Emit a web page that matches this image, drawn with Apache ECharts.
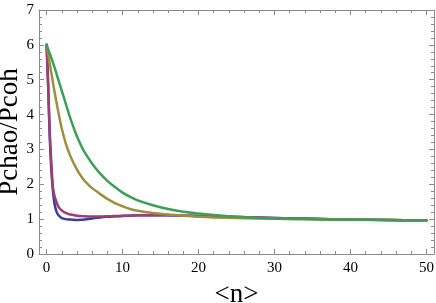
<!DOCTYPE html>
<html>
<head>
<meta charset="utf-8">
<script src="https://cdn.jsdelivr.net/npm/echarts@6/dist/echarts.min.js"></script>
<style>html,body{margin:0;padding:0;background:#fff;}#c{width:436px;height:303px;}</style>
</head>
<body>
<div id="c"></div>
<script>
const xs = [0,0.2,0.4,0.6,0.8,1,1.25,1.5,1.75,2,2.5,3,3.5,4,4.5,5,6,7,8,9,10,11,12,14,16,18,20,22,25,30,35,40,45,50];
const blue = [6,4.85,3.45,2.5,1.9,1.5,1.25,1.13,1.07,1.03,1.0,0.99,0.98,0.975,0.98,0.99,1.02,1.05,1.07,1.08,1.09,1.10,1.11,1.11,1.11,1.10,1.09,1.08,1.06,1.03,1.01,0.99,0.975,0.965];
const purple = [6,4.9,3.55,2.7,1.98,1.7,1.52,1.38,1.3,1.25,1.18,1.14,1.12,1.1,1.09,1.08,1.075,1.075,1.08,1.09,1.095,1.10,1.11,1.11,1.11,1.10,1.09,1.08,1.06,1.03,1.01,0.99,0.975,0.965];
const gold = [6,5.74,5.48,5.22,4.96,4.71,4.41,4.12,3.85,3.6,3.19,2.88,2.63,2.42,2.245,2.1,1.89,1.73,1.58,1.46,1.37,1.29,1.24,1.175,1.13,1.1,1.07,1.05,1.03,1.01,1.0,0.985,0.975,0.965];
const green = [6,5.88,5.76,5.64,5.51,5.38,5.21,5.03,4.86,4.68,4.33,3.98,3.66,3.37,3.13,2.92,2.59,2.32,2.1,1.92,1.76,1.64,1.54,1.4,1.29,1.21,1.16,1.12,1.07,1.02,1.0,0.985,0.975,0.965];
const xMajor = [0,10,20,30,40,50];
const xMinor = [2,4,6,8,12,14,16,18,22,24,26,28,32,34,36,38,42,44,46,48];
const names = ['a','b','c','d'];
const colors = ['#3d3d9e','#9e3d72','#9e8f3d','#3d9e5a'];

const frame = '#8a8a8a';
const font = 'Liberation Serif';
function xAx(pos, labels, vals, len, line) {
  return {
    type:'value', position:pos, min:-1, max:51,
    axisLine:{show:line, onZero:false, lineStyle:{color:frame,width:1}},
    axisTick:{show:true, inside:true, length:len, customValues:vals, lineStyle:{color:frame}},
    axisLabel:{show:labels, customValues:vals, color:'#000', fontFamily:font, fontSize:15, margin:7},
    splitLine:{show:false}
  };
}
function yAx(pos, labels) {
  return {
    type:'value', position:pos, min:0, max:7, interval:1,
    axisLine:{show:true, onZero:false, lineStyle:{color:frame,width:1}},
    axisTick:{show:true, inside:true, length:5, lineStyle:{color:frame}},
    minorTick:{show:true, splitNumber:5, length:3, lineStyle:{color:frame}},
    axisLabel:{show:labels, color:'#000', fontFamily:font, fontSize:15, margin:5},
    splitLine:{show:false}, minorSplitLine:{show:false}
  };
}
const xAxes = [xAx('bottom',true,xMajor,5,true), xAx('bottom',false,xMinor,3,false), xAx('top',false,xMajor,5,true), xAx('top',false,xMinor,3,false)];
xAxes[0].name = '<n>';
xAxes[0].nameLocation = 'middle';
xAxes[0].nameGap = 27;
xAxes[0].nameTextStyle = {fontFamily:font, fontSize:27, color:'#000'};
const yAxes = [yAx('left',true), yAx('right',false)];
const yTitle = 'Pchao/Pcoh';

const series = [blue,purple,gold,green].map((arr,i)=>({
  name:names[i], type:'line', xAxisIndex:0, yAxisIndex:0,
  data: xs.map((x,j)=>[x,arr[j]]),
  showSymbol:false, smooth:0.3,
  lineStyle:{color:colors[i], width:2.5, cap:'round', join:'round'}, itemStyle:{color:colors[i]}, z:2+i
}));

const chart = echarts.init(document.getElementById('c'), null, {renderer:'canvas'});
chart.setOption({
  animation:false,
  backgroundColor:'#fff',
  grid:{left:39, right:2, top:10, bottom:49, containLabel:false, outerBoundsMode:'none'},
  xAxis:xAxes, yAxis:yAxes, series:series,
  graphic:[{
    type:'text', x:10, y:132, rotation:Math.PI/2,
    style:{text:yTitle, fontFamily:font, fontSize:27, fill:'#000', align:'center', verticalAlign:'middle'}
  }]
});
</script>
</body>
</html>
